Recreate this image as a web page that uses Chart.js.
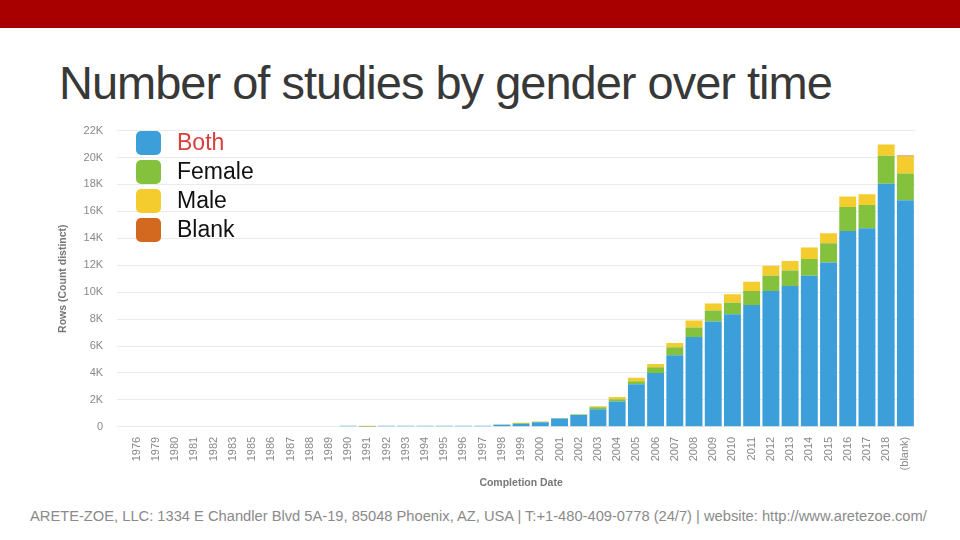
<!DOCTYPE html>
<html>
<head>
<meta charset="utf-8">
<script src="https://cdn.jsdelivr.net/npm/chart.js@4.4.1/dist/chart.umd.min.js"></script>
<style>
  html, body { margin:0; padding:0; background:#fff; width:960px; height:540px; overflow:hidden; }
  #topbar { position:absolute; left:0; top:0; width:960px; height:28px; background:#a80000; }
  #title { position:absolute; left:59px; top:55px; font-family:"Liberation Sans Narrow","Arial Narrow","Liberation Sans",Arial,sans-serif; font-size:47px; color:#383838; white-space:nowrap; letter-spacing:-1px; }
  #chartbox { position:absolute; left:52px; top:110px; width:873px; height:390px; }
  #footer { position:absolute; left:30px; top:508px; font-family:"Liberation Sans",Arial,sans-serif; font-size:14.7px; color:#8a8a8a; white-space:nowrap; }
</style>
</head>
<body>
<div id="topbar"></div>
<div id="title">Number of studies by gender over time</div>
<div id="chartbox"><canvas id="c"></canvas></div>
<div id="footer">ARETE-ZOE, LLC: 1334 E Chandler Blvd 5A-19, 85048 Phoenix, AZ, USA | T:+1-480-409-0778 (24/7) | website: http://www.aretezoe.com/</div>
<script>
const categories = ['1976','1979','1980','1981','1982','1983','1985','1986','1987','1988','1989','1990','1991','1992','1993','1994','1995','1996','1997','1998','1999','2000','2001','2002','2003','2004','2005','2006','2007','2008','2009','2010','2011','2012','2013','2014','2015','2016','2017','2018','(blank)'];
const bothValues   = [0,0,0,0,0,0,0,0,0,0,0,70,5,70,70,75,75,75,80,150,200,340,610,880,1300,1870,3150,3990,5310,6670,7820,8360,9050,10090,10460,11220,12200,14540,14740,18050,16830];
const femaleValues = [0,0,0,0,0,0,0,0,0,0,0,0,0,0,0,0,0,0,0,20,70,30,30,30,150,180,240,440,590,710,810,860,1040,1130,1150,1250,1430,1790,1740,2090,1990];
const maleValues   = [0,0,0,0,0,0,0,0,0,0,0,0,65,0,0,0,0,0,0,0,30,15,15,20,70,170,250,240,320,520,520,620,690,740,710,840,740,770,790,820,1250];
const blankValues  = [0,0,0,0,0,0,0,0,0,0,0,0,0,0,0,0,0,0,0,0,0,0,0,0,0,0,0,0,0,0,0,0,0,0,0,0,0,0,0,0,80];
const seriesNames  = ['Both','Female','Male','Blank'];
const yTickValues  = [0,2000,4000,6000,8000,10000,12000,14000,16000,18000,20000,22000];

const colors = ['#3d9fda','#84c23e','#f4cc2e','#d2691f'];
const legendTextColors = ['#d9403b','#111','#111','#111'];

const legendPlugin = {
  id: 'insideLegend',
  afterDraw(chart) {
    const ctx = chart.ctx;
    const x0 = 136 - 52, y0 = 131 - 110;
    ctx.save();
    chart.data.datasets.forEach((ds, i) => {
      const y = y0 + i * 29;
      ctx.fillStyle = ds.backgroundColor;
      ctx.beginPath();
      ctx.roundRect(x0, y, 25, 24, 5);
      ctx.fill();
      ctx.fillStyle = legendTextColors[i];
      ctx.font = '23px "Liberation Sans", Arial, sans-serif';
      ctx.textBaseline = 'middle';
      ctx.fillText(ds.label, x0 + 41, y + 13);
    });
    ctx.restore();
  }
};

const tickFont = { family: '"Liberation Sans", Arial, sans-serif', size: 11 };
const titleFont = { family: '"Liberation Sans", Arial, sans-serif', size: 10.5, weight: 'bold' };

new Chart(document.getElementById('c'), {
  type: 'bar',
  data: {
    labels: categories,
    datasets: [bothValues, femaleValues, maleValues, blankValues].map((vals, i) => ({
      label: seriesNames[i],
      data: vals,
      backgroundColor: colors[i],
      borderWidth: 0,
      categoryPercentage: 1.0,
      barPercentage: 0.88
    }))
  },
  options: {
    responsive: true,
    maintainAspectRatio: false,
    animation: false,
    layout: { padding: { top: 5, right: 10, bottom: 7, left: 0 } },
    plugins: { legend: { display: false }, tooltip: { enabled: false } },
    scales: {
      x: {
        stacked: true,
        grid: { display: false, drawTicks: true, tickLength: 4 },
        border: { display: false },
        ticks: {
          autoSkip: false, maxRotation: 90, minRotation: 90, padding: 6,
          color: '#888', font: tickFont
        },
        title: {
          display: true, text: 'Completion Date', color: '#777',
          font: titleFont,
          padding: { top: 0, bottom: 4 }
        }
      },
      y: {
        stacked: true,
        min: 0, max: 22000,
        afterBuildTicks(axis) { axis.ticks = yTickValues.map(v => ({ value: v })); },
        grid: { color: '#ebebeb', lineWidth: 1, drawTicks: true, tickLength: 10 },
        border: { display: false },
        ticks: {
          padding: 14, color: '#888',
          font: tickFont,
          callback: v => v === 0 ? '0' : (v / 1000) + 'K'
        },
        title: {
          display: true, text: 'Rows (Count distinct)', color: '#777',
          font: titleFont,
          padding: { top: 5, bottom: 0 }
        }
      }
    }
  },
  plugins: [legendPlugin]
});
</script>
</body>
</html>
